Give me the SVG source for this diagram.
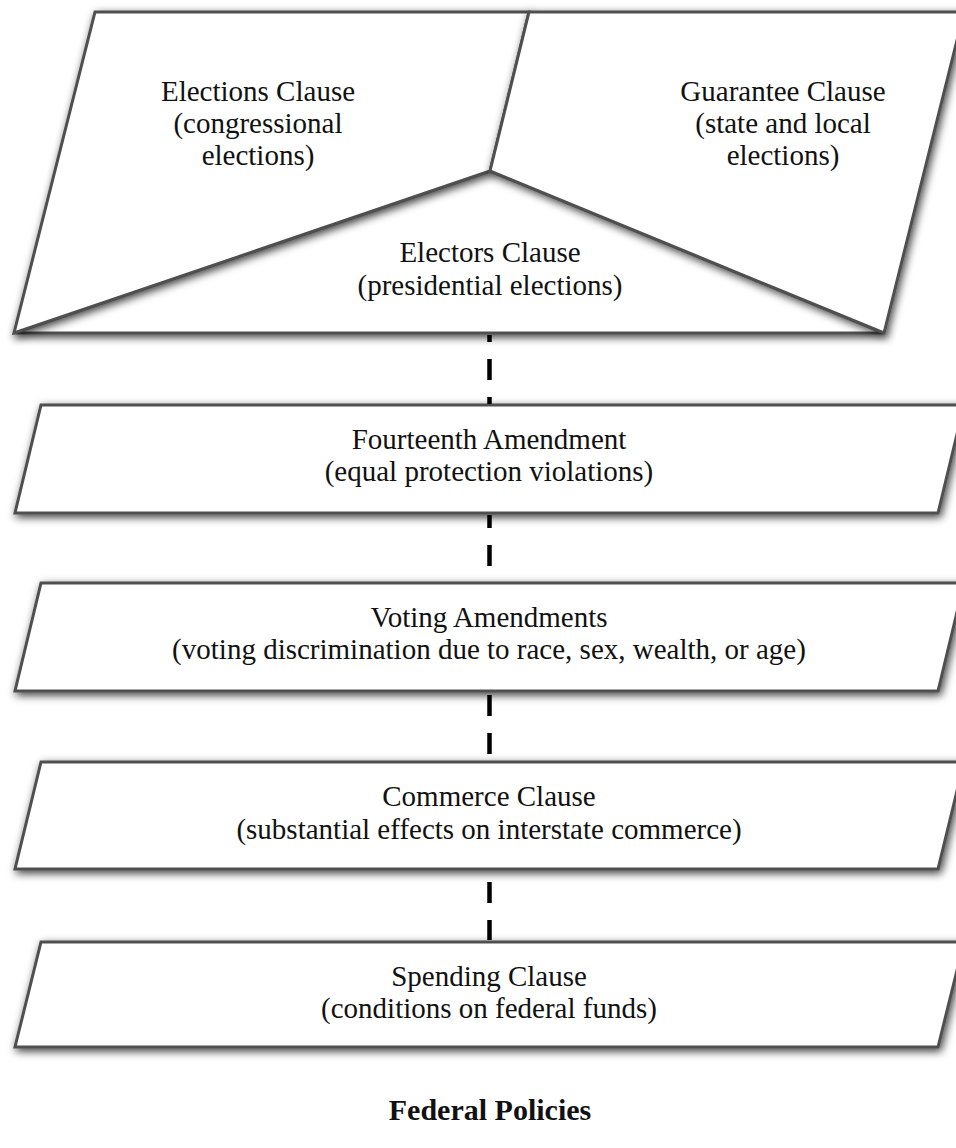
<svg xmlns="http://www.w3.org/2000/svg" width="956" height="1148" viewBox="0 0 956 1148">
  <defs>
    <filter id="shadow" x="-10%" y="-20%" width="120%" height="140%">
      <feDropShadow dx="2" dy="3" stdDeviation="4.5" flood-color="#000" flood-opacity="0.75"/>
    </filter>
    <style>
      .shape { fill: #ffffff; stroke: #505050; stroke-width: 3; stroke-linejoin: miter; filter: url(#shadow); }
      .label { font-family: "Liberation Serif", "Times New Roman", serif; font-size: 29px; fill: #111111; text-anchor: middle; }
      .title { font-family: "Liberation Serif", "Times New Roman", serif; font-size: 30px; font-weight: bold; fill: #111111; text-anchor: middle; }
      .link { stroke: #000000; stroke-width: 4.5; fill: none; stroke-dasharray: 21 17; }
    </style>
  </defs>

  <rect width="956" height="1148" fill="#ffffff"/>

  <!-- Constitutional election powers: three panels in one parallelogram -->
  <g id="electors-clause">
    <path class="shape" d="M14 333 L490 171 L884 333 Z"/>
    <text class="label" x="490" y="262">Electors Clause</text>
    <text class="label" x="490" y="295">(presidential elections)</text>
  </g>
  <g id="elections-clause">
    <path class="shape" d="M95 12 L529 12 L490 171 L14 333 Z"/>
    <text class="label" x="258" y="101">Elections Clause</text>
    <text class="label" x="258" y="133">(congressional</text>
    <text class="label" x="258" y="165">elections)</text>
  </g>
  <g id="guarantee-clause">
    <path class="shape" d="M529 12 L964 12 L884 333 L490 171 Z"/>
    <text class="label" x="783" y="101">Guarantee Clause</text>
    <text class="label" x="783" y="133">(state and local</text>
    <text class="label" x="783" y="165">elections)</text>
  </g>

  <g id="fourteenth-amendment">
    <path class="shape" d="M41 405 H964 L938 513 H15 Z"/>
    <text class="label" x="489" y="449">Fourteenth Amendment</text>
    <text class="label" x="489" y="481">(equal protection violations)</text>
  </g>

  <g id="voting-amendments">
    <path class="shape" d="M41 583 H964 L938 691 H15 Z"/>
    <text class="label" x="489" y="627">Voting Amendments</text>
    <text class="label" x="489" y="659">(voting discrimination due to race, sex, wealth, or age)</text>
  </g>

  <g id="commerce-clause">
    <path class="shape" d="M41 762 H964 L938 869 H15 Z"/>
    <text class="label" x="489" y="806">Commerce Clause</text>
    <text class="label" x="489" y="839">(substantial effects on interstate commerce)</text>
  </g>

  <g id="spending-clause">
    <path class="shape" d="M41 942 H964 L938 1047 H15 Z"/>
    <text class="label" x="489" y="986">Spending Clause</text>
    <text class="label" x="489" y="1018">(conditions on federal funds)</text>
  </g>

  <!-- dashed links between the stacked powers -->
  <g id="connectors">
    <line class="link" x1="489.5" y1="335" x2="489.5" y2="404" stroke-dashoffset="14"/>
    <line class="link" x1="489.5" y1="515" x2="489.5" y2="582" stroke-dashoffset="8"/>
    <line class="link" x1="489.5" y1="693" x2="489.5" y2="760" stroke-dashoffset="36"/>
    <line class="link" x1="489.5" y1="871" x2="489.5" y2="940" stroke-dashoffset="27"/>
  </g>

  <g id="caption">
    <text class="title" x="490" y="1120">Federal Policies</text>
  </g>
</svg>
